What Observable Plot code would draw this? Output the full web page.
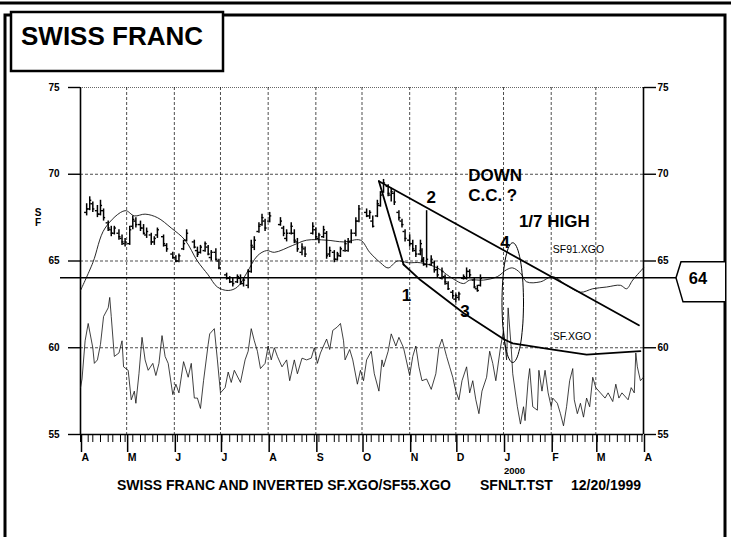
<!DOCTYPE html>
<html><head><meta charset="utf-8">
<script src="https://cdn.jsdelivr.net/npm/d3@7"></script>
<script src="https://cdn.jsdelivr.net/npm/@observablehq/plot@0.6"></script>
<style>body{margin:0;background:#fff} svg{display:block}</style>
</head><body><div id="chart"></div>
<script>
// ---- data ----
const xStart = "1999-04-01", xEnd = "2000-04-01";
const yTicks = [55, 60, 65, 70, 75];
const gridValues = [60, 65, 70];
const monthLetters = ["J","F","M","A","M","J","J","A","S","O","N","D"];
// daily bars: [date, open, high, low, close]
const bars = [
["1999-04-05",67.8,68.3,67.6,68.0],["1999-04-07",68.0,68.7,67.9,68.5],["1999-04-09",68.3,68.4,67.8,68.0],
["1999-04-12",67.9,68.2,67.5,67.7],["1999-04-14",67.7,68.5,67.6,68.2],["1999-04-16",67.9,68.0,67.3,67.5],
["1999-04-19",67.2,67.3,66.7,66.9],["1999-04-21",66.8,67.0,66.4,66.6],["1999-04-23",66.6,67.0,66.5,66.9],
["1999-04-26",66.6,66.8,66.2,66.4],["1999-04-28",66.3,66.5,65.9,66.1],["1999-04-30",66.0,66.3,65.8,66.1],
["1999-05-03",66.0,67.0,65.9,66.8],["1999-05-05",67.0,67.6,66.8,67.4],["1999-05-07",67.3,67.5,66.9,67.1],
["1999-05-10",67.1,67.3,66.7,66.9],["1999-05-12",66.9,67.1,66.5,66.6],["1999-05-14",66.5,66.9,66.3,66.7],
["1999-05-17",66.5,66.6,65.9,66.1],["1999-05-19",66.1,66.4,65.9,66.3],["1999-05-21",66.5,66.9,66.3,66.8],
["1999-05-25",66.4,66.5,65.8,66.0],["1999-05-27",65.9,66.0,65.5,65.7],["1999-05-31",65.4,65.5,65.1,65.2],
["1999-06-02",65.2,65.3,64.9,65.0],["1999-06-04",65.0,65.4,64.9,65.3],["1999-06-07",65.7,66.2,65.6,66.0],
["1999-06-09",66.2,66.8,66.1,66.6],["1999-06-14",66.1,66.2,65.7,65.8],["1999-06-16",65.6,65.8,65.2,65.4],
["1999-06-18",65.5,65.9,65.4,65.8],["1999-06-21",65.6,66.1,65.5,66.0],["1999-06-23",65.8,65.9,65.3,65.4],
["1999-06-25",65.2,65.6,65.0,65.5],["1999-06-28",65.5,65.7,65.0,65.1],["1999-06-30",65.0,65.1,64.5,64.6],
["1999-07-05",64.2,64.3,63.9,64.0],["1999-07-07",64.0,64.1,63.7,63.8],["1999-07-09",63.8,64.0,63.5,63.7],
["1999-07-12",63.8,64.2,63.7,64.1],["1999-07-14",64.0,64.2,63.6,63.8],["1999-07-16",63.7,64.0,63.5,63.9],
["1999-07-19",63.6,64.5,63.4,64.4],["1999-07-21",64.4,66.2,64.3,65.9],["1999-07-23",65.8,66.4,65.6,66.2],
["1999-07-26",66.7,67.2,66.6,67.0],["1999-07-28",67.1,67.7,67.0,67.5],["1999-07-30",67.3,67.4,66.7,66.9],
["1999-08-02",67.3,67.8,67.2,67.6],["1999-08-09",67.1,67.5,67.0,67.3],["1999-08-11",66.9,67.0,66.4,66.6],
["1999-08-13",66.3,66.8,66.1,66.6],["1999-08-16",66.6,67.2,66.5,67.0],["1999-08-18",66.6,66.8,66.0,66.2],
["1999-08-20",66.1,66.3,65.5,65.7],["1999-08-23",65.5,66.0,65.3,65.8],["1999-08-25",65.7,65.8,65.2,65.4],
["1999-08-30",66.6,67.2,66.5,67.0],["1999-09-01",66.8,66.9,66.2,66.4],["1999-09-03",66.3,66.6,66.0,66.5],
["1999-09-06",66.4,67.0,66.3,66.8],["1999-09-08",66.6,66.7,65.1,65.3],["1999-09-10",65.4,65.8,65.2,65.6],
["1999-09-13",65.5,65.6,64.9,65.1],["1999-09-15",65.1,65.5,65.0,65.4],["1999-09-17",65.3,65.8,65.2,65.7],
["1999-09-20",65.6,66.2,65.5,66.0],["1999-09-22",65.6,66.3,65.5,66.1],["1999-09-24",66.1,66.8,66.0,66.6],
["1999-09-27",66.6,67.5,66.4,67.3],["1999-09-29",67.3,68.2,67.2,68.0],["1999-10-04",67.8,68.0,67.5,67.6],
["1999-10-06",67.6,67.9,67.4,67.8],["1999-10-08",67.3,67.6,66.9,67.0],["1999-10-11",67.6,68.5,67.5,68.3],
["1999-10-13",68.2,69.0,68.1,68.8],["1999-10-15",69.0,69.7,68.9,69.5],["1999-10-18",69.3,69.4,68.7,68.9],
["1999-10-20",68.8,69.2,68.4,69.0],["1999-10-22",68.9,69.0,68.2,68.4],["1999-10-25",67.8,67.9,67.3,67.5],
["1999-10-27",67.3,67.4,66.9,67.1],["1999-10-29",66.7,66.8,66.1,66.3],["1999-11-01",66.2,66.5,65.8,66.0],
["1999-11-03",66.0,66.2,65.5,65.7],["1999-11-05",65.6,65.9,65.2,65.4],["1999-11-08",65.4,66.2,65.3,66.0],
["1999-11-09",65.6,65.7,64.9,65.1],["1999-11-10",65.0,65.2,64.7,64.8],["1999-11-12",64.8,67.9,64.6,65.1],
["1999-11-15",64.8,65.3,64.7,65.1],["1999-11-17",64.9,65.0,64.3,64.5],["1999-11-19",64.5,64.7,64.0,64.2],
["1999-11-22",64.0,64.6,63.9,64.4],["1999-11-24",64.1,64.2,63.6,63.8],["1999-11-26",63.7,63.8,63.3,63.4],
["1999-11-29",63.2,63.3,62.8,63.0],["1999-12-01",62.8,63.1,62.6,63.0],["1999-12-03",62.9,63.2,62.7,63.1],
["1999-12-06",64.0,64.2,63.9,64.1],["1999-12-08",64.0,64.6,63.9,64.4],["1999-12-10",64.4,64.5,64.0,64.2],
["1999-12-13",63.9,64.0,63.4,63.5],["1999-12-15",63.4,63.6,63.2,63.3],["1999-12-17",63.6,64.2,63.5,64.0]
];
// SF91.XGO (upper thin line)
const sf91 = [
["1999-04-01",63.3],["1999-04-09",64.9],["1999-04-17",66.9],["1999-04-30",67.9],["1999-05-06",67.6],
["1999-05-13",67.7],["1999-05-21",67.5],["1999-05-30",66.9],["1999-06-08",66.2],["1999-06-16",65.0],
["1999-06-23",64.2],["1999-06-29",63.5],["1999-07-06",63.3],["1999-07-12",63.5],["1999-07-18",64.3],
["1999-07-25",65.3],["1999-07-31",65.6],["1999-08-05",65.5],["1999-08-17",65.9],["1999-08-26",66.2],
["1999-09-08",66.2],["1999-09-19",66.1],["1999-09-30",66.2],["1999-10-06",65.5],["1999-10-13",64.9],
["1999-10-18",64.6],["1999-10-24",65.0],["1999-10-31",64.9],["1999-11-08",64.9],["1999-11-19",64.6],
["1999-11-27",64.1],["1999-12-06",63.7],["1999-12-10",63.9],["1999-12-19",63.9],["1999-12-28",64.1],
["2000-01-03",64.5],["2000-01-07",64.6],["2000-01-12",64.3],["2000-01-16",63.8],["2000-01-25",63.8],
["2000-02-02",64.1],["2000-02-11",63.6],["2000-02-20",63.2],["2000-02-28",63.4],["2000-03-08",63.5],
["2000-03-17",63.6],["2000-03-21",63.4],["2000-03-25",63.9],["2000-04-01",64.6]
];
// SF.XGO (lower thin line)
const sfxgo = [
["1999-04-01",57.7],["1999-04-02",58.2],["1999-04-04",60.4],["1999-04-06",61.4],["1999-04-09",60.0],
["1999-04-10",59.1],["1999-04-12",59.3],["1999-04-14",60.2],["1999-04-16",61.8],["1999-04-19",62.3],
["1999-04-20",62.9],["1999-04-21",61.8],["1999-04-23",59.5],["1999-04-26",59.7],["1999-04-28",60.4],
["1999-04-29",58.9],["1999-05-02",58.7],["1999-05-04",57.0],["1999-05-06",57.5],["1999-05-07",56.8],
["1999-05-09",58.5],["1999-05-11",60.6],["1999-05-13",59.3],["1999-05-15",58.7],["1999-05-18",59.1],
["1999-05-20",58.4],["1999-05-22",59.1],["1999-05-24",60.7],["1999-05-26",59.5],["1999-05-28",59.1],
["1999-05-31",57.3],["1999-06-02",57.9],["1999-06-04",57.4],["1999-06-07",59.2],["1999-06-10",58.3],
["1999-06-12",59.1],["1999-06-14",57.1],["1999-06-16",57.1],["1999-06-18",56.5],["1999-06-20",58.1],
["1999-06-23",60.2],["1999-06-24",60.8],["1999-06-27",61.1],["1999-06-29",59.3],["1999-07-01",57.4],
["1999-07-04",57.7],["1999-07-06",58.6],["1999-07-08",58.0],["1999-07-10",58.7],["1999-07-14",58.0],
["1999-07-17",59.3],["1999-07-19",59.8],["1999-07-21",61.1],["1999-07-23",60.4],["1999-07-25",59.8],
["1999-07-27",58.8],["1999-07-30",59.1],["1999-08-01",60.1],["1999-08-03",59.3],["1999-08-05",60.0],
["1999-08-07",59.5],["1999-08-10",58.9],["1999-08-13",59.3],["1999-08-15",58.1],["1999-08-18",59.3],
["1999-08-20",58.5],["1999-08-23",59.4],["1999-08-26",59.3],["1999-08-29",59.4],["1999-08-31",60.0],
["1999-09-02",59.1],["1999-09-04",59.7],["1999-09-06",60.1],["1999-09-08",60.5],["1999-09-10",59.9],
["1999-09-12",61.0],["1999-09-15",61.2],["1999-09-17",61.4],["1999-09-19",60.4],["1999-09-20",59.3],
["1999-09-23",59.9],["1999-09-25",59.3],["1999-09-28",57.9],["1999-09-30",58.7],["1999-10-02",58.1],
["1999-10-04",59.3],["1999-10-07",59.8],["1999-10-09",58.5],["1999-10-12",57.5],["1999-10-14",59.3],
["1999-10-15",58.9],["1999-10-18",59.8],["1999-10-20",60.8],["1999-10-23",60.1],["1999-10-25",60.6],
["1999-10-28",60.0],["1999-11-01",58.4],["1999-11-03",59.5],["1999-11-05",60.1],["1999-11-07",58.9],
["1999-11-09",58.1],["1999-11-12",58.2],["1999-11-15",57.6],["1999-11-18",58.5],["1999-11-20",60.0],
["1999-11-22",60.5],["1999-11-25",59.5],["1999-11-27",58.9],["1999-11-29",58.3],["1999-12-01",57.5],
["1999-12-03",57.0],["1999-12-05",58.1],["1999-12-08",58.9],["1999-12-10",57.4],["1999-12-12",58.1],
["1999-12-14",57.0],["1999-12-16",56.2],["1999-12-18",57.5],["1999-12-21",58.3],["1999-12-23",59.8],
["1999-12-25",59.1],["1999-12-27",58.1],["1999-12-30",60.0],["2000-01-01",61.0],["2000-01-03",59.3],
["2000-01-04",62.3],["2000-01-06",60.0],["2000-01-07",58.5],["2000-01-10",56.6],["2000-01-12",55.6],
["2000-01-14",56.6],["2000-01-15",55.8],["2000-01-17",58.1],["2000-01-18",58.8],["2000-01-20",56.6],
["2000-01-23",56.4],["2000-01-24",58.7],["2000-01-26",57.5],["2000-01-28",58.7],["2000-01-30",57.4],
["2000-02-01",56.6],["2000-02-02",57.1],["2000-02-05",56.8],["2000-02-07",56.2],["2000-02-09",55.5],
["2000-02-11",56.6],["2000-02-13",58.1],["2000-02-15",58.8],["2000-02-16",57.0],["2000-02-18",56.2],
["2000-02-20",56.8],["2000-02-22",56.0],["2000-02-24",57.1],["2000-02-26",56.6],["2000-02-28",58.3],
["2000-03-01",57.7],["2000-03-04",57.4],["2000-03-07",57.1],["2000-03-09",57.4],["2000-03-12",56.9],
["2000-03-14",57.9],["2000-03-16",57.1],["2000-03-18",57.4],["2000-03-22",57.0],["2000-03-24",57.7],
["2000-03-26",57.4],["2000-03-27",59.7],["2000-03-28",58.9],["2000-03-30",58.1],["2000-04-01",58.3]
];
// hand-drawn trend lines
const trendUpper = [["1999-10-12",69.6],["2000-03-29",61.3]];
const trendSteep = [["1999-10-12",69.6],["1999-10-28",64.8]];
const trendLower = [["1999-10-28",64.8],["1999-11-08",63.9],["1999-12-06",62.0],["2000-01-01",60.5],
  ["2000-01-07",60.25],["2000-02-01",59.9],["2000-02-24",59.6],["2000-03-30",59.8]];
const levelLine = 64;
const ellipseCenter = ["2000-01-07", 62.6];
const ellipseRadius = [7, 3.45]; // days, SF units
// bold annotations: [text, date, value, anchor]
const boldNotes = [
["DOWN","1999-12-09",69.95,"start"],
["C.C. ?","1999-12-09",68.8,"start"],
["1/7 HIGH","2000-01-11",67.3,"start"],
["2","1999-11-15",68.64,"middle"],
["4","2000-01-02",66.05,"middle"],
["1","1999-10-30",63.0,"middle"],
["3","1999-12-07",62.1,"middle"]
];
// series labels: [text, date, value]
const seriesNotes = [
["SF91.XGO","2000-02-02",65.67],
["SF.XGO","2000-02-02",60.66]
];
const titleText = "SWISS FRANC";
const yLabel = ["S","F"];
const caption = ["SWISS FRANC AND INVERTED SF.XGO/SF55.XGO", "SFNLT.TST", "12/20/1999"];
const yearLabel = "2000";

// ---- build ----
const parse = d3.utcParse("%Y-%m-%d");
const x0 = parse(xStart), x1 = parse(xEnd);
const barRows = bars.map(([d,o,h,l,c]) => ({date: parse(d), open:o, high:h, low:l, close:c}));
const toPts = a => a.map(([d,v]) => ({date: parse(d), value: v}));
const months = d3.utcMonth.range(x0, d3.utcDay.offset(x1, 1));
const innerMonths = months.slice(1, -1);
const weekdays = d3.utcDays(x0, x1).filter(d => d.getUTCDay() % 6 !== 0);
const minorTicks = weekdays.filter((d, i) => i % 3 === 0);
const ec = parse(ellipseCenter[0]);
const ellipsePts = d3.range(0, 73).map(i => {
  const t = i / 72 * 2 * Math.PI;
  return {date: d3.utcHour.offset(ec, Math.round(ellipseRadius[0] * 24 * Math.cos(t))), value: ellipseCenter[1] + ellipseRadius[1] * Math.sin(t)};
});
const boldRows = boldNotes.map(([text,d,v,anchor]) => ({text, date: parse(d), value: v, anchor}));
const seriesRows = seriesNotes.map(([text,d,v]) => ({text, date: parse(d), value: v}));
const FONT = "'Liberation Sans', Arial, Helvetica, sans-serif";

const chart = Plot.plot({
  width: 731, height: 537,
  marginLeft: 80, marginRight: 88, marginTop: 87, marginBottom: 103,
  style: {fontFamily: FONT, color: "#000", background: "#fff", overflow: "visible"},
  x: {type: "utc", domain: [x0, x1]},
  y: {domain: [55, 75]},
  marks: [
    Plot.ruleX(innerMonths, {stroke: "#000", strokeWidth: 0.7, strokeDasharray: "3,2"}),
    Plot.ruleY(gridValues, {stroke: "#000", strokeWidth: 0.7, strokeDasharray: "3,2"}),
    Plot.ruleY([75], {stroke: "#000", strokeWidth: 0.6, strokeDasharray: "1,1"}),
    Plot.ruleX([x0, x1], {stroke: "#000", strokeWidth: 1.6}),
    Plot.ruleY([55], {stroke: "#000", strokeWidth: 1.4}),
    Plot.axisY(yTicks, {anchor: "left", tickSize: 12, tickPadding: 9, fontSize: 10, fontWeight: "bold", strokeWidth: 1.4}),
    Plot.axisY(yTicks, {anchor: "right", tickSize: 12, tickPadding: 2, fontSize: 10, fontWeight: "bold", strokeWidth: 1.4}),
    Plot.axisX(minorTicks, {tickSize: 8, tickFormat: () => "", strokeWidth: 1}),
    Plot.axisX(months, {tickSize: 18, tickPadding: 1, tickFormat: d => monthLetters[d.getUTCMonth()], textAnchor: "start", dx: 1, fontSize: 10.5, fontWeight: "bold", strokeWidth: 1.5}),
    Plot.line(toPts(sfxgo), {x: "date", y: "value", stroke: "#111", strokeWidth: 0.8}),
    Plot.line(toPts(sf91), {x: "date", y: "value", stroke: "#111", strokeWidth: 0.9, curve: "catmull-rom"}),
    Plot.ruleX(barRows, {x: "date", y1: "low", y2: "high", stroke: "#000", strokeWidth: 1.5}),
    Plot.ruleY(barRows, {y: "open", x1: d => d3.utcHour.offset(d.date, -32), x2: "date", stroke: "#000", strokeWidth: 1.4}),
    Plot.ruleY(barRows, {y: "close", x1: "date", x2: d => d3.utcHour.offset(d.date, 32), stroke: "#000", strokeWidth: 1.4}),
    Plot.line(toPts(trendUpper), {x: "date", y: "value", stroke: "#000", strokeWidth: 1.8}),
    Plot.line(toPts(trendSteep), {x: "date", y: "value", stroke: "#000", strokeWidth: 1.8}),
    Plot.line(toPts(trendLower), {x: "date", y: "value", stroke: "#000", strokeWidth: 1.8}),
    Plot.line(ellipsePts, {x: "date", y: "value", stroke: "#000", strokeWidth: 1, curve: "linear-closed"}),
    Plot.text(boldRows.filter(d => d.anchor === "start"), {x: "date", y: "value", text: "text", fontSize: 17, fontWeight: "bold", textAnchor: "start", fill: "#000"}),
    Plot.text(boldRows.filter(d => d.anchor === "middle"), {x: "date", y: "value", text: "text", fontSize: 17, fontWeight: "bold", textAnchor: "middle", fill: "#000"}),
    Plot.text(seriesRows, {x: "date", y: "value", text: "text", fontSize: 10.5, textAnchor: "start", fill: "#000"})
  ]
});

document.getElementById("chart").appendChild(chart);

// page decoration and labels positioned through the chart scales
const svg = d3.select(chart);
const ys = chart.scale("y"), xs = chart.scale("x");
const y64 = ys.apply(levelLine);
const g = svg.append("g").attr("font-family", FONT).attr("fill", "#000").attr("text-anchor", "start");
g.append("line").attr("x1", 0).attr("x2", 731).attr("y1", 3).attr("y2", 3).attr("stroke", "#000").attr("stroke-width", 3);
g.append("path").attr("d", "M5,540V15H725V540").attr("fill", "none").attr("stroke", "#000").attr("stroke-width", 3);
g.append("rect").attr("x", 11).attr("y", 12).attr("width", 212).attr("height", 59).attr("fill", "#fff").attr("stroke", "#000").attr("stroke-width", 2.5);
g.append("text").attr("x", 21).attr("y", 45).attr("text-anchor", "start").attr("font-size", 26).attr("font-weight", "bold").text(titleText);
yLabel.forEach((t, i) => g.append("text").attr("x", 38).attr("y", 216 + i * 10).attr("text-anchor", "middle").attr("font-size", 10).attr("font-weight", "bold").text(t));
g.append("line").attr("x1", 60).attr("x2", 676).attr("y1", y64).attr("y2", y64).attr("stroke", "#000").attr("stroke-width", 1.5);
g.append("path").attr("d", `M725,${y64 - 16}H681L676,${y64}L683,${y64 + 24}H725`).attr("fill", "#fff").attr("stroke", "#000").attr("stroke-width", 1.5);
g.append("text").attr("x", 698).attr("y", y64 + 6).attr("text-anchor", "middle").attr("font-size", 16.5).attr("font-weight", "bold").text(String(levelLine));
g.append("text").attr("x", xs.apply(parse("2000-01-01")) + 1).attr("y", 474).attr("text-anchor", "start").attr("font-size", 9.5).attr("font-weight", "bold").text(yearLabel);
const capX = [117, 480, 571];
caption.forEach((t, i) => g.append("text").attr("x", capX[i]).attr("y", 490).attr("text-anchor", "start").attr("font-size", 14).attr("font-weight", "bold").text(t));
</script></body></html>
